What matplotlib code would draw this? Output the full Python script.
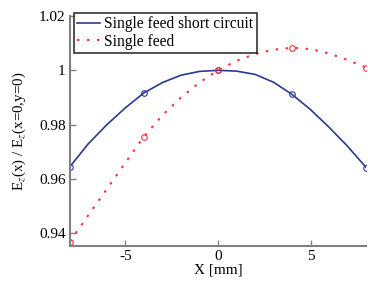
import numpy as np
import matplotlib.pyplot as plt

plt.rcParams['font.family'] = ['Liberation Serif', 'DejaVu Serif']
plt.rcParams['mathtext.fontset'] = 'stix'

# positions along x [mm]
x = [-8, -7, -6, -5, -4, -3, -2, -1, 0, 1, 2, 3, 4, 5, 6, 7, 8]
short_circuit = [0.9645, 0.9730, 0.9800, 0.9862, 0.9917, 0.9955, 0.9982, 0.9996, 1.0000,
                 0.9997, 0.9985, 0.9956, 0.9911, 0.9855, 0.9790, 0.9720, 0.9642]
single_feed = [0.9369, 0.9467, 0.9563, 0.9660, 0.9756, 0.9835, 0.9900, 0.9955, 1.0000,
               1.0035, 1.0060, 1.0076, 1.0083, 1.0078, 1.0062, 1.0038, 1.0010]
marker_idx = [0, 4, 8, 12, 16]

xticks = [-5, 0, 5]
xtick_labels = ['-5', '0', '5']
yticks = [0.94, 0.96, 0.98, 1.0, 1.02]
ytick_labels = ['0.94', '0.96', '0.98', '1', '1.02']

blue = '#2b3990'
red = '#ff3040'
grey = '#808080'

fig = plt.figure(figsize=(3.68, 2.86), dpi=100)
ax = fig.add_axes([0.190, 0.140, 0.805, 0.804])

ax.plot(x, short_circuit, '-', color=blue, lw=1.2, marker='o', ms=4,
        mfc='none', mew=0.8, markevery=marker_idx, label='Single feed short circuit')
ax.plot(x, single_feed, linestyle=(0, (1.2, 3.6)), color=red, lw=1.5, marker='o', ms=4,
        mfc='none', mew=0.8, markevery=marker_idx, label='Single feed')

ax.set_xlim(-8, 8)
ax.set_ylim(0.9353, 1.02)
ax.set_xticks(xticks)
ax.set_xticklabels(xtick_labels)
ax.set_yticks(yticks)
ax.set_yticklabels(ytick_labels)

for s in ['top', 'right']:
    ax.spines[s].set_visible(False)
for s in ['left', 'bottom']:
    ax.spines[s].set_color(grey)
    ax.spines[s].set_linewidth(1.5)
ax.tick_params(direction='in', length=4, width=1, color=grey, labelsize=11, pad=3)

ax.set_xlabel('X [mm]', fontsize=11, labelpad=0)
ax.set_ylabel('E$_z$(x) / E$_z$(x=0,y=0)', fontsize=10.8, labelpad=8)

leg = ax.legend(loc='upper left', bbox_to_anchor=(0.201, 0.955),
                bbox_transform=fig.transFigure, fontsize=11.2, frameon=True,
                fancybox=False, borderpad=0.2, labelspacing=0.1,
                handlelength=1.5, handletextpad=0.25, borderaxespad=0)
leg.get_frame().set_edgecolor('black')
leg.get_frame().set_linewidth(1.2)
for h in leg.legend_handles:
    h.set_marker('')

fig.savefig('out.png', dpi=100)
